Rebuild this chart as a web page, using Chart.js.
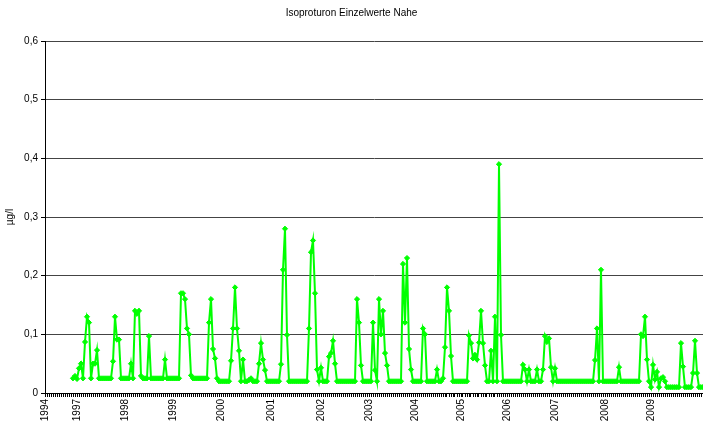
<!DOCTYPE html>
<html>
<head>
<meta charset="utf-8">
<script src="https://cdn.jsdelivr.net/npm/chart.js@4/dist/chart.umd.min.js"></script>
<style>
  html, body { margin: 0; padding: 0; background: #fff; }
  canvas { display: block; }
</style>
</head>
<body>
<canvas id="chart" width="703" height="423"></canvas>
<script>
// Isoproturon single measurements, river Nahe (µg/l), one value per sample
const chartTitle = 'Isoproturon Einzelwerte Nahe';
const unitLabel = 'µg/l';

// Year labels and the index of the first sample carrying each year
const yearLabels = ['1994', '1997', '1998', '1999', '2000', '2001', '2002',
                    '2003', '2004', '2005', '2006', '2007', '2008', '2009'];
const yearFirstSample = [0, 16, 40, 64, 88, 113, 138, 162, 185, 208, 231, 255, 280, 303];

// Measured concentrations per sample (null = no measurement)
const concentration = [
  null, null, null, null, null, null, null, null, null, null,
  null, null, null, null, 0.025, 0.029, 0.024, 0.042, 0.05, 0.025,
  0.087, 0.13, 0.12, 0.025, 0.05, 0.05, 0.073, 0.025, 0.025, 0.025,
  0.025, 0.025, 0.025, 0.025, 0.054, 0.13, 0.091, 0.091, 0.025, 0.025,
  0.025, 0.025, 0.025, 0.05, 0.025, 0.14, 0.135, 0.14, 0.029, 0.025,
  0.025, 0.025, 0.097, 0.025, 0.025, 0.025, 0.025, 0.025, 0.025, 0.025,
  0.057, 0.025, 0.025, 0.025, 0.025, 0.025, 0.025, 0.025, 0.17, 0.17,
  0.16, 0.11, 0.1, 0.03, 0.025, 0.025, 0.025, 0.025, 0.025, 0.025,
  0.025, 0.025, 0.12, 0.16, 0.075, 0.059, 0.025, 0.02, 0.02, 0.02,
  0.02, 0.02, 0.02, 0.055, 0.11, 0.18, 0.11, 0.072, 0.02, 0.057,
  0.02, 0.02, 0.022, 0.025, 0.02, 0.02, 0.02, 0.05, 0.085, 0.057,
  0.039, 0.02, 0.02, 0.02, 0.02, 0.02, 0.02, 0.02, 0.049, 0.21,
  0.28, 0.099, 0.02, 0.02, 0.02, 0.02, 0.02, 0.02, 0.02, 0.02,
  0.02, 0.02, 0.11, 0.24, 0.26, 0.17, 0.04, 0.02, 0.043, 0.02,
  0.02, 0.02, 0.062, 0.068, 0.089, 0.05, 0.02, 0.02, 0.02, 0.02,
  0.02, 0.02, 0.02, 0.02, 0.02, 0.02, 0.16, 0.12, 0.047, 0.02,
  0.02, 0.02, 0.02, 0.02, 0.12, 0.039, 0.02, 0.16, 0.1, 0.14,
  0.068, 0.047, 0.02, 0.02, 0.02, 0.02, 0.02, 0.02, 0.02, 0.22,
  0.12, 0.23, 0.075, 0.04, 0.02, 0.02, 0.02, 0.02, 0.02, 0.11,
  0.1, 0.02, 0.02, 0.02, 0.02, 0.02, 0.04, 0.02, 0.02, 0.025,
  0.078, 0.18, 0.14, 0.063, 0.02, 0.02, 0.02, 0.02, 0.02, 0.02,
  0.02, 0.02, 0.098, 0.085, 0.059, 0.065, 0.057, 0.086, 0.14, 0.085,
  0.047, 0.02, 0.02, 0.072, 0.02, 0.13, 0.02, 0.39, 0.099, 0.02,
  0.02, 0.02, 0.02, 0.02, 0.02, 0.02, 0.02, 0.02, 0.02, 0.048,
  0.04, 0.02, 0.04, 0.02, 0.02, 0.02, 0.04, 0.02, 0.02, 0.04,
  0.097, 0.087, 0.093, 0.044, 0.02, 0.042, 0.02, 0.02, 0.02, 0.02,
  0.02, 0.02, 0.02, 0.02, 0.02, 0.02, 0.02, 0.02, 0.02, 0.02,
  0.02, 0.02, 0.02, 0.02, 0.02, 0.056, 0.11, 0.02, 0.21, 0.02,
  0.02, 0.02, 0.02, 0.02, 0.02, 0.02, 0.02, 0.044, 0.02, 0.02,
  0.02, 0.02, 0.02, 0.02, 0.02, 0.02, 0.02, 0.02, 0.1, 0.097,
  0.13, 0.057, 0.02, 0.01, 0.048, 0.023, 0.036, 0.01, 0.025, 0.027,
  0.02, 0.01, 0.01, 0.01, 0.01, 0.01, 0.01, 0.01, 0.085, 0.045,
  0.01, 0.01, 0.01, 0.01, 0.034, 0.089, 0.034, 0.01, 0.01, 0.01
];

// One category per sample; only the first sample of a year is labelled
const sampleLabels = concentration.map(() => '');
yearLabels.forEach((year, k) => { sampleLabels[yearFirstSample[k]] = year; });

const baseFont = { family: '"Liberation Sans", Arial, sans-serif', size: 10 };

new Chart(document.getElementById('chart'), {
  type: 'line',
  data: {
    labels: sampleLabels,
    datasets: [{
      data: concentration,
      borderColor: '#00ff00',
      backgroundColor: '#00ff00',
      borderWidth: 2,
      pointStyle: 'rectRot',
      pointRadius: 2.6,
      pointBorderWidth: 1,
      pointBackgroundColor: '#00ff00',
      pointBorderColor: '#00ff00',
      tension: 0,
      fill: false,
      spanGaps: false
    }]
  },
  options: {
    responsive: false,
    animation: false,
    layout: { padding: 0, autoPadding: false },
    plugins: {
      legend: { display: false },
      tooltip: { enabled: false },
      title: {
        display: true,
        text: chartTitle,
        color: '#000',
        font: { ...baseFont, weight: 'normal' },
        padding: { top: 7, bottom: 22 }
      }
    },
    scales: {
      x: {
        type: 'category',
        offset: false,
        grid: {
          display: true,
          drawOnChartArea: false,
          drawTicks: true,
          tickLength: 4,
          color: '#000',
          lineWidth: 1
        },
        border: { display: true, color: '#000', width: 1 },
        ticks: {
          autoSkip: false,
          minRotation: 90,
          maxRotation: 90,
          padding: 2,
          color: '#000',
          font: baseFont
        },
        afterFit(scale) {
          scale.height = 30;
          scale.paddingLeft = 0;
          scale.paddingRight = 0;
        }
      },
      y: {
        min: 0,
        max: 0.6,
        ticks: {
          stepSize: 0.1,
          padding: 3,
          color: '#000',
          font: baseFont,
          callback: v => (v === 0 ? '0' : v.toFixed(1).replace('.', ','))
        },
        grid: {
          color: '#444',
          lineWidth: 1,
          tickLength: 4,
          tickColor: '#000'
        },
        border: { color: '#000', width: 1 },
        title: {
          display: true,
          text: unitLabel,
          color: '#000',
          font: baseFont,
          padding: { top: 4, bottom: 0 }
        },
        afterFit(scale) {
          scale.width = 45;
        }
      }
    }
  }
});
</script>
</body>
</html>
